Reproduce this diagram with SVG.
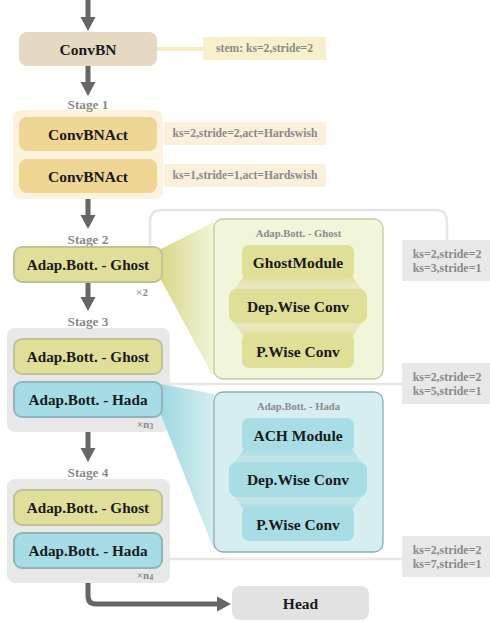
<svg xmlns="http://www.w3.org/2000/svg" width="490" height="622" viewBox="0 0 490 622">
<defs>
<style>
text{font-family:"Liberation Serif","Times New Roman",serif;font-weight:bold;text-anchor:middle;dominant-baseline:central}
.main{font-size:15.5px;fill:#1a1a1a}
.adap{font-size:15.2px;fill:#1a1a1a}
.stage{font-size:13.3px;fill:#8a8a8a}
.lbl{font-size:11.6px;fill:#8a8a8a}
.rl{font-size:11.9px;fill:#8a8a8a}
.ttl{font-size:10.6px;fill:#8a8a8a}
.mul{font-size:11px;fill:#8a8a8a}
.arrow{stroke:#666;stroke-width:5;fill:none}
.ghost{fill:#e0df9a;stroke:#c4c295;stroke-width:2}
.hada{fill:#a6dce5;stroke:#91b4ba;stroke-width:2}
.gin{fill:#dfdf97}
.hin{fill:#a8dde6}
.grp{fill:#e8e8e8}
.rlbl{fill:#e8e8e8}
</style>
<marker id="ah" markerUnits="userSpaceOnUse" markerWidth="16" markerHeight="16" viewBox="0 0 16 16" refX="0" refY="8" orient="auto">
<path d="M0,0.5 L14,8 L0,15.5 Z" fill="#666"/>
</marker>
<linearGradient id="gw" x1="0" y1="0" x2="1" y2="0">
<stop offset="0" stop-color="#d9d88a"/>
<stop offset="1" stop-color="#f1f5d9"/>
</linearGradient>
<linearGradient id="hw" x1="0" y1="0" x2="1" y2="0">
<stop offset="0" stop-color="#9fd8e2"/>
<stop offset="1" stop-color="#d6eef0"/>
</linearGradient>
<linearGradient id="gc" x1="0" y1="0" x2="0" y2="1">
<stop offset="0" stop-color="#dfdf97"/>
<stop offset="0.5" stop-color="#e8e8c4"/>
<stop offset="1" stop-color="#dfdf97"/>
</linearGradient>
<linearGradient id="hc" x1="0" y1="0" x2="0" y2="1">
<stop offset="0" stop-color="#a8dde6"/>
<stop offset="0.5" stop-color="#c4e4e6"/>
<stop offset="1" stop-color="#a8dde6"/>
</linearGradient>
</defs>
<rect width="490" height="622" fill="#ffffff"/>

<!-- background guide lines -->
<g id="guides" fill="none" stroke="#e6e6e6" stroke-width="2.5">
<path d="M150,246 V222 Q150,210 162,210 H436 Q447,210 447,222 V242"/>
<path d="M170,384 H402"/>
<path d="M170,559 H402"/>
</g>

<!-- stage groups -->
<g id="stage1">
<rect x="13" y="110" width="150" height="89" rx="8" fill="#fcf2dd"/>
<text class="stage" x="88" y="104">Stage 1</text>
</g>
<g id="stage3">
<rect class="grp" x="7" y="328" width="163" height="104" rx="8"/>
<text class="stage" x="88" y="321">Stage 3</text>
</g>
<g id="stage4">
<rect class="grp" x="7" y="479" width="163" height="104" rx="8"/>
<text class="stage" x="88" y="472">Stage 4</text>
</g>
<text class="stage" x="88" y="239">Stage 2</text>

<!-- projection wedges -->
<g id="projections">
<polygon points="161,249 214,222 214,378 161,280" fill="url(#gw)"/>
<polygon points="161,384 214,394 214,550 161,415" fill="url(#hw)"/>
</g>

<!-- connectors -->
<g id="connectors">
<path class="arrow" d="M88,0 V17" marker-end="url(#ah)"/>
<path class="arrow" d="M88,66 V82" marker-end="url(#ah)"/>
<path class="arrow" d="M88,199 V215" marker-end="url(#ah)"/>
<path class="arrow" d="M88,283 V297" marker-end="url(#ah)"/>
<path class="arrow" d="M88,432 V448" marker-end="url(#ah)"/>
<path class="arrow" d="M88,583 V596 Q88,604 96,604 H217" marker-end="url(#ah)"/>
<path d="M157,49 H203" stroke="#f7ecc2" stroke-width="4" fill="none"/>
</g>

<!-- nodes -->
<g id="convbn">
<rect x="19" y="32" width="138" height="34" rx="8" fill="#e6d9c3"/>
<text class="main" x="88" y="49">ConvBN</text>
</g>
<g id="stem-label">
<rect x="203" y="37" width="123" height="23" fill="#f8f0cb"/>
<text class="lbl" x="264.5" y="48.5">stem: ks=2,stride=2</text>
</g>
<g id="convbnact1">
<rect x="19" y="117" width="138" height="34" rx="8" fill="#f0d694"/>
<text class="main" x="88" y="134">ConvBNAct</text>
</g>
<g id="convbnact1-label">
<rect x="164" y="122" width="162" height="23" fill="#faf0dc"/>
<text class="lbl" x="245" y="133.5">ks=2,stride=2,act=Hardswish</text>
</g>
<g id="convbnact2">
<rect x="19" y="159" width="138" height="34" rx="8" fill="#f0d694"/>
<text class="main" x="88" y="176">ConvBNAct</text>
</g>
<g id="convbnact2-label">
<rect x="164" y="164" width="162" height="23" fill="#faf0dc"/>
<text class="lbl" x="245" y="175.5">ks=1,stride=1,act=Hardswish</text>
</g>

<g id="stage2-ghost">
<rect class="ghost" x="14" y="247" width="148" height="35" rx="8"/>
<text class="adap" x="88" y="264.5">Adap.Bott. - Ghost</text>
<text class="mul" x="142" y="292">×2</text>
</g>

<g id="stage3-ghost">
<rect class="ghost" x="14" y="339" width="148" height="35" rx="8"/>
<text class="adap" x="88" y="356.5">Adap.Bott. - Ghost</text>
</g>
<g id="stage3-hada">
<rect class="hada" x="14" y="382" width="148" height="35" rx="8"/>
<text class="adap" x="88" y="399.5">Adap.Bott. - Hada</text>
<text class="mul" x="145" y="424">×n<tspan font-size="8" dy="2">3</tspan></text>
</g>

<g id="stage4-ghost">
<rect class="ghost" x="14" y="490" width="148" height="35" rx="8"/>
<text class="adap" x="88" y="507.5">Adap.Bott. - Ghost</text>
</g>
<g id="stage4-hada">
<rect class="hada" x="14" y="533" width="148" height="35" rx="8"/>
<text class="adap" x="88" y="550.5">Adap.Bott. - Hada</text>
<text class="mul" x="145" y="575">×n<tspan font-size="8" dy="2">4</tspan></text>
</g>

<g id="head">
<rect x="232" y="586" width="137" height="34" rx="8" fill="#e2e2e2"/>
<text class="main" x="300.5" y="603">Head</text>
</g>

<!-- Ghost detail panel -->
<g id="ghost-panel">
<rect x="214" y="219" width="169" height="160" rx="9" fill="#f1f5d9" stroke="#c9c69e" stroke-width="1.3"/>
<text class="ttl" x="298.5" y="233">Adap.Bott. - Ghost</text>
<polygon points="244,276 352,276 367,297 229,297" fill="url(#gc)"/>
<polygon points="229,315 367,315 352,337 244,337" fill="url(#gc)"/>
</g>
<g id="ghostmodule">
<rect class="gin" x="242" y="245" width="112" height="34" rx="7"/>
<text class="main" x="298" y="262">GhostModule</text>
</g>
<g id="ghost-dwconv">
<rect class="gin" x="229" y="289" width="138" height="34" rx="8"/>
<text class="main" x="298" y="306">Dep.Wise Conv</text>
</g>
<g id="ghost-pwconv">
<rect class="gin" x="242" y="334" width="112" height="34" rx="7"/>
<text class="main" x="298" y="351">P.Wise Conv</text>
</g>

<!-- Hada detail panel -->
<g id="hada-panel">
<rect x="214" y="392" width="169" height="160" rx="9" fill="#d6eef0" stroke="#8aafb5" stroke-width="1.3"/>
<text class="ttl" x="298.5" y="406">Adap.Bott. - Hada</text>
<polygon points="244,449 352,449 367,470 229,470" fill="url(#hc)"/>
<polygon points="229,489 367,489 352,510 244,510" fill="url(#hc)"/>
</g>
<g id="ach-module">
<rect class="hin" x="242" y="418" width="112" height="34" rx="7"/>
<text class="main" x="298" y="435">ACH Module</text>
</g>
<g id="hada-dwconv">
<rect class="hin" x="229" y="462" width="138" height="35" rx="8"/>
<text class="main" x="298" y="479">Dep.Wise Conv</text>
</g>
<g id="hada-pwconv">
<rect class="hin" x="242" y="507" width="112" height="34" rx="7"/>
<text class="main" x="298" y="524">P.Wise Conv</text>
</g>

<!-- right labels -->
<g id="stage2-label">
<rect class="rlbl" x="402" y="240" width="88" height="41"/>
<text class="rl" x="447" y="254">ks=2,stride=2</text>
<text class="rl" x="447" y="268">ks=3,stride=1</text>
</g>
<g id="stage3-label">
<rect class="rlbl" x="402" y="363" width="88" height="41"/>
<text class="rl" x="447" y="377">ks=2,stride=2</text>
<text class="rl" x="447" y="391">ks=5,stride=1</text>
</g>
<g id="stage4-label">
<rect class="rlbl" x="402" y="536" width="88" height="41"/>
<text class="rl" x="447" y="550">ks=2,stride=2</text>
<text class="rl" x="447" y="564">ks=7,stride=1</text>
</g>
</svg>
